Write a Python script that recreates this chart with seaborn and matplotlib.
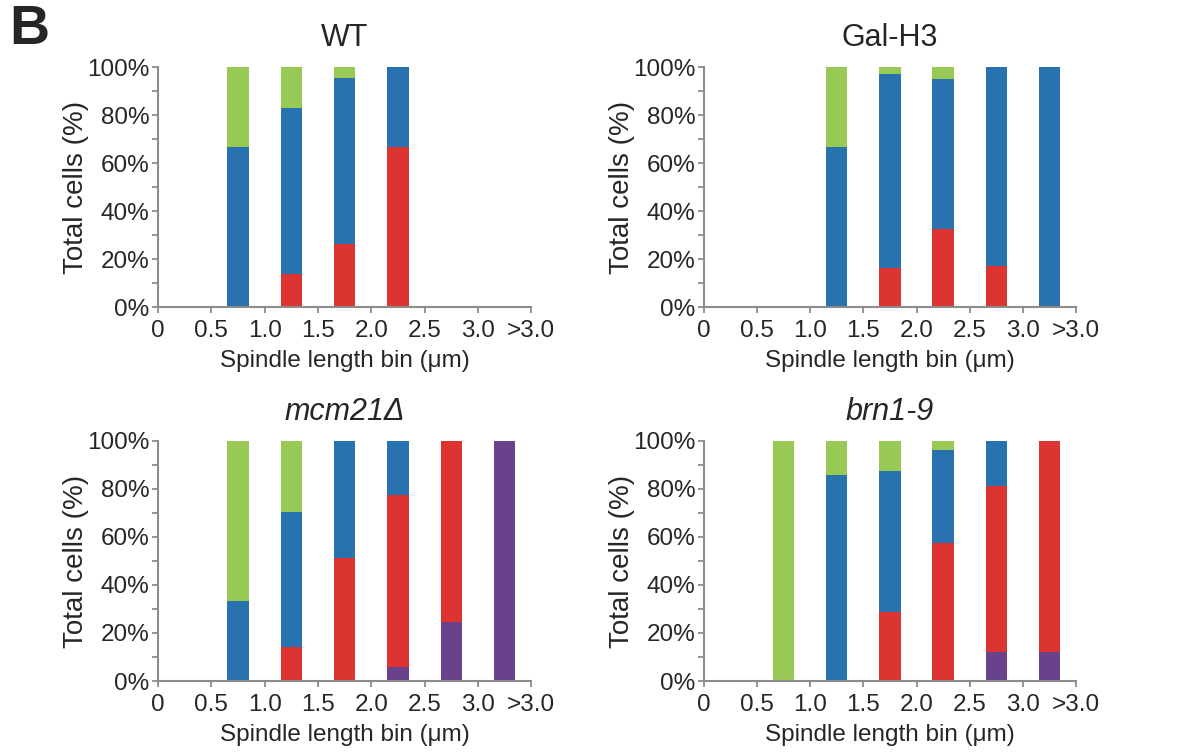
import numpy as np
import seaborn as sns
import matplotlib.pyplot as plt

# spindle length bins (bar centres sit between the tick marks)
bin_labels = ['0-0.5', '0.5-1.0', '1.0-1.5', '1.5-2.0', '2.0-2.5', '2.5-3.0', '>3.0']
tick_labels = ['0', '0.5', '1.0', '1.5', '2.0', '2.5', '3.0', '>3.0']

# percentages per bin, stacked bottom -> top: purple, red, blue, green
wt_purple = [0, 0, 0, 0, 0, 0, 0]
wt_red = [0, 0, 14, 26.5, 66.7, 0, 0]
wt_blue = [0, 66.7, 69, 69, 33.3, 0, 0]
wt_green = [0, 33.3, 17, 4.5, 0, 0, 0]

gal_purple = [0, 0, 0, 0, 0, 0, 0]
gal_red = [0, 0, 0, 16.3, 32.6, 17.4, 0]
gal_blue = [0, 0, 66.7, 80.9, 62.4, 82.6, 100]
gal_green = [0, 0, 33.3, 2.8, 5, 0, 0]

mcm_purple = [0, 0, 0, 0, 5.8, 24.6, 100]
mcm_red = [0, 0, 14.3, 51.2, 71.7, 75.4, 0]
mcm_blue = [0, 33.3, 56.1, 48.8, 22.5, 0, 0]
mcm_green = [0, 66.7, 29.6, 0, 0, 0, 0]

brn_purple = [0, 0, 0, 0, 0, 12.1, 12.1]
brn_red = [0, 0, 0, 28.6, 57.4, 69.1, 87.9]
brn_blue = [0, 0, 85.7, 58.8, 38.7, 18.8, 0]
brn_green = [0, 100, 14.3, 12.6, 3.9, 0, 0]

panels = [
    ('WT', 'normal', [wt_purple, wt_red, wt_blue, wt_green]),
    ('Gal-H3', 'normal', [gal_purple, gal_red, gal_blue, gal_green]),
    ('mcm21\u0394', 'italic', [mcm_purple, mcm_red, mcm_blue, mcm_green]),
    ('brn1-9', 'italic', [brn_purple, brn_red, brn_blue, brn_green]),
]
colors = ['#6a428c', '#dc3430', '#2872b0', '#98c955']

sns.set_style('white')
plt.rcParams['font.family'] = ['Liberation Sans', 'DejaVu Sans']

fig = plt.figure(figsize=(11.85, 7.55), dpi=100)
boxes = [
    [0.1333, 0.593, 0.315, 0.318],
    [0.594, 0.593, 0.314, 0.318],
    [0.1333, 0.098, 0.315, 0.318],
    [0.594, 0.098, 0.314, 0.318],
]

centres = np.arange(len(bin_labels)) + 0.5
grey = '#8c8c8c'

for (title, style, layers), box in zip(panels, boxes):
    ax = fig.add_axes(box)
    cum = np.cumsum(np.array(layers, dtype=float), axis=0)
    # draw the tallest cumulative layer first, then cover with the lower ones
    for k in range(len(layers) - 1, -1, -1):
        sns.barplot(x=centres, y=cum[k], native_scale=True, orient='x',
                    width=0.4, color=colors[k], saturation=1,
                    edgecolor='none', errorbar=None, ax=ax)
    ax.set_xlim(0, 7)
    ax.set_ylim(0, 100)
    ax.set_xticks(np.arange(8))
    ax.set_xticklabels(tick_labels, fontsize=17.5)
    ax.set_yticks(np.arange(0, 101, 20))
    ax.set_yticklabels([f'{v}%' for v in range(0, 101, 20)], fontsize=17.5)
    ax.set_yticks(np.arange(10, 100, 20), minor=True)
    ax.tick_params(axis='both', which='both', direction='out', length=4,
                   width=1.3, color=grey, pad=2, left=True, bottom=True)
    ax.tick_params(axis='x', pad=5)
    for side in ['top', 'right']:
        ax.spines[side].set_visible(False)
    for side in ['left', 'bottom']:
        ax.spines[side].set_color(grey)
        ax.spines[side].set_linewidth(1.5)
    ax.set_xlabel('Spindle length bin (\u03bcm)', fontsize=17.5, labelpad=6)
    ax.set_ylabel('Total cells (%)', fontsize=20, labelpad=-1)
    ax.set_title(title, fontsize=22, fontstyle=style, pad=15)

fig.text(0.008, 0.995, 'B', fontsize=40, fontweight='bold', va='top', ha='left')

plt.savefig('out.png', dpi=100)
